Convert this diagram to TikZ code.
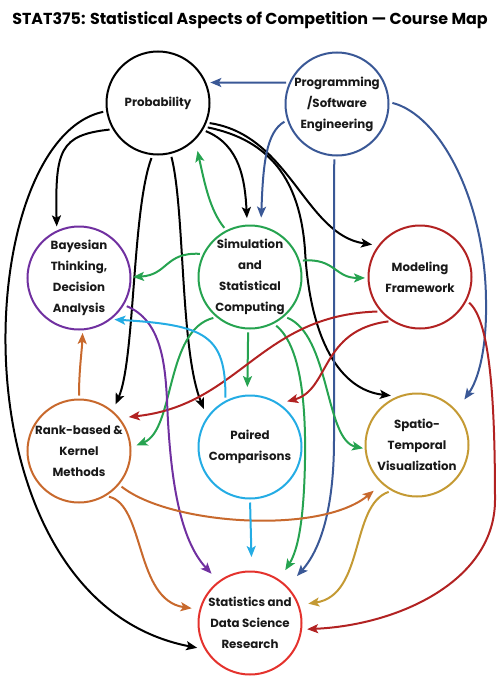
\documentclass[tikz,border=0pt]{standalone}
\usepackage{fontspec}
\setmainfont{Poppins}
\usetikzlibrary{arrows.meta}
\definecolor{txt}{RGB}{25,25,25}
\definecolor{cprog}{RGB}{58,88,150}
\definecolor{cbay}{RGB}{112,48,160}
\definecolor{csim}{RGB}{38,163,80}
\definecolor{cmod}{RGB}{178,34,34}
\definecolor{crank}{RGB}{200,105,45}
\definecolor{cpair}{RGB}{36,172,228}
\definecolor{cspat}{RGB}{196,154,52}
\definecolor{cres}{RGB}{228,50,45}
\begin{document}
\begin{tikzpicture}[x=1pt,y=-1pt,
  ring/.style={circle,minimum size=103pt,inner sep=0pt,line width=2pt,draw},
  lbl/.style={align=center,inner sep=0pt,text=txt,font=\bfseries\fontsize{11.8}{21}\selectfont},
  edge/.style={line width=2pt,-{Stealth[length=11pt,width=9pt,inset=2.5pt]},shorten <=3pt,shorten >=3pt}]
\useasboundingbox (0,0) rectangle (500,680);
\node[text=black,font=\bfseries\fontsize{15.9}{18}\selectfont,inner sep=0pt] (title) at (250,20) {STAT375: Statistical Aspects of Competition — Course Map};
% nodes
\node[ring,draw=black] (prob) at (158,103) {};
\node[lbl] (probt) at (prob) {Probability};
\node[ring,draw=cprog] (prog) at (337,104) {};
\node[lbl] (progt) at (prog) {Programming\\/Software\\Engineering};
\node[ring,draw=cbay] (bay) at (79,278) {};
\node[lbl] (bayt) at (bay) {Bayesian\\Thinking,\\Decision\\Analysis};
\node[ring,draw=csim] (sim) at (250,277) {};
\node[lbl] (simt) at (sim) {Simulation\\and\\Statistical\\Computing};
\node[ring,draw=cmod] (mod) at (420,277) {};
\node[lbl] (modt) at (mod) {Modeling\\Framework};
\node[ring,draw=crank] (rank) at (79,451) {};
\node[lbl] (rankt) at (rank) {Rank-based \&\\Kernel\\Methods};
\node[ring,draw=cpair] (pair) at (250,447) {};
\node[lbl] (pairt) at (pair) {Paired\\Comparisons};
\node[ring,draw=cspat] (spat) at (417,445) {};
\node[lbl] (spatt) at (spat) {Spatio-\\Temporal\\Visualization};
\node[ring,draw=cres] (res) at (250,623) {};
\node[lbl] (rest) at (res) {Statistics and\\Data Science\\Research};
% Probability
\draw[edge,black,shorten >=7.5pt] (prob.189) .. controls (-30,140) and (-50,600) .. (res.210);
\draw[edge,black,shorten >=4pt] (prob.210) .. controls (60,135) and (55,150) .. (bay.115);
\draw[edge,black,shorten >=7pt] (prob.264) .. controls (132,210) and (135,360) .. (rank.50);
\draw[edge,black,shorten >=8.5pt] (prob.284) .. controls (185,210) and (180,350) .. (pair.145);
\draw[edge,black,shorten >=6.5pt] (prob.329) .. controls (240,145) and (245,180) .. (sim.93);
\draw[edge,black,shorten >=6pt] (prob.338) .. controls (290,135) and (305,235) .. (mod.143);
\draw[edge,black,shorten >=6.5pt] (prob.333) .. controls (270,140) and (300,180) .. (305,250) .. controls (310,340) and (340,390) .. (spat.112);
% Programming
\draw[edge,cprog,shorten >=4pt] (prog.156) -- (prob.23);
\draw[edge,cprog,shorten >=8pt] (prog.198) .. controls (266,132) and (263,165) .. (sim.78);
\draw[edge,cprog,shorten >=14pt] (prog.267) -- (334,440) .. controls (334,510) and (320,550) .. (res.44);
\draw[edge,cprog,shorten >=13.5pt] (prog.2) .. controls (440,115) and (485,200) .. (486,300) .. controls (487,350) and (478,380) .. (spat.41);
% Simulation
\draw[edge,csim,shorten >=11pt] (sim.117) .. controls (210,210) and (205,185) .. (prob.315);
\draw[edge,csim,shorten >=1.5pt] (sim.154) .. controls (165,252) and (168,275) .. (bay.1);
\draw[edge,csim,shorten >=2.5pt] (sim.18) .. controls (335,258) and (335,278) .. (mod.181);
\draw[edge,csim,shorten >=5.5pt] (sim.230) .. controls (165,330) and (175,430) .. (rank.4);
\draw[edge,csim,shorten >=7.5pt] (sim.268) -- (pair.93);
\draw[edge,csim,shorten >=1.6pt] (sim.311) .. controls (330,335) and (325,440) .. (spat.184);
\draw[edge,csim,shorten >=11pt] (sim.297) .. controls (300,345) and (306,400) .. (305,460) .. controls (304,520) and (298,550) .. (res.56);
% Modeling
\draw[edge,cmod,shorten >=9pt] (mod.221) .. controls (260,315) and (240,405) .. (rank.39);
\draw[edge,cmod,shorten >=8pt] (mod.237) .. controls (320,330) and (330,390) .. (pair.56);
\draw[edge,cmod,shorten >=5pt] (mod.333) .. controls (490,320) and (495,400) .. (495,500) .. controls (495,580) and (400,625) .. (res.353);
% Bayesian
\draw[edge,cbay,shorten >=10pt] (bay.329) .. controls (160,320) and (165,360) .. (167,400) .. controls (170,480) and (180,540) .. (res.127);
% Rank
\draw[edge,crank,shorten >=2.6pt] (rank.90) .. controls (79,370) and (82,350) .. (bay.274);
\draw[edge,crank,shorten >=10.5pt] (rank.320) .. controls (170,525) and (320,535) .. (spat.228);
\draw[edge,crank,shorten >=7.7pt] (rank.301) .. controls (145,505) and (135,600) .. (res.165);
% Paired
\draw[edge,cpair,shorten >=3pt] (pair.118) .. controls (226,335) and (205,325) .. (bay.308);
\draw[edge,cpair,shorten >=13.5pt] (pair.270) -- (res.88);
% Spatio
\draw[edge,cspat,shorten >=9pt] (spat.241) .. controls (350,505) and (365,595) .. (res.20);
\end{tikzpicture}
\end{document}
